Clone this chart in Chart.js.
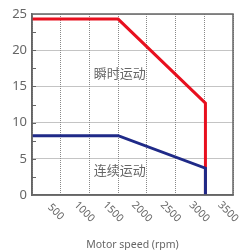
<!DOCTYPE html>
<html><head><meta charset="utf-8">
<script src="https://cdn.jsdelivr.net/npm/chart.js@4"></script>
<style>html,body{margin:0;padding:0;background:#fff}#wrap{width:241px;height:250px}</style>
</head><body><div id="wrap"><canvas id="c" width="241" height="250"></canvas></div>
<script>
const speeds = [0, 1500, 3020, 3020];
const peakTorque = [24.3, 24.3, 12.7, 0];
const contTorque = [8.2, 8.2, 3.7, 0];
const xTicks = [500, 1000, 1500, 2000, 2500, 3000, 3500];
const yMinorTicks = [2.5, 5, 7.5, 10, 12.5, 15, 17.5, 20, 22.5];
const regionLabels = [
  {text: '瞬时运动', x: 1530, y: 16.8},
  {text: '连续运动', x: 1530, y: 3.4}
];
const axisTitle = 'Motor speed (rpm)';

const GRAY = '#666';
const overlay = {
  id: 'overlay',
  afterDraw(chart) {
    const ctx = chart.ctx, a = chart.chartArea;
    const xs = chart.scales.x, ys = chart.scales.y;
    ctx.save();
    ctx.strokeStyle = GRAY; ctx.lineWidth = 1;
    yMinorTicks.forEach(v => {
      const y = Math.round(ys.getPixelForValue(v)) + 0.5;
      ctx.beginPath(); ctx.moveTo(a.left, y); ctx.lineTo(a.left + 4, y); ctx.stroke();
    });
    ctx.strokeStyle = GRAY; ctx.lineWidth = 1.5;
    ctx.strokeRect(a.left, a.top, a.right - a.left, a.bottom - a.top);
    ctx.fillStyle = '#666';
    ctx.font = '13px "Noto Sans CJK SC", "Noto Sans", sans-serif';
    ctx.textAlign = 'center'; ctx.textBaseline = 'middle';
    regionLabels.forEach(l => {
      ctx.fillText(l.text, xs.getPixelForValue(l.x), ys.getPixelForValue(l.y));
    });
    ctx.font = '10.5px "Noto Sans", sans-serif';
    ctx.fillStyle = '#666';
    xTicks.forEach(v => {
      ctx.save();
      ctx.translate(xs.getPixelForValue(v) - 5, a.bottom + 17);
      ctx.rotate(Math.PI / 4);
      ctx.fillText(String(v), 0, 0);
      ctx.restore();
    });
    ctx.restore();
  }
};

new Chart(document.getElementById('c'), {
  type: 'line',
  data: {
    datasets: [
      {label: 'cont', data: speeds.map((s, i) => ({x: s, y: contTorque[i]})),
       borderColor: '#1f2a88', borderWidth: 3, pointRadius: 0, tension: 0, fill: false},
      {label: 'peak', data: speeds.map((s, i) => ({x: s, y: peakTorque[i]})),
       borderColor: '#e8101f', borderWidth: 3, pointRadius: 0, tension: 0, fill: false}
    ]
  },
  options: {
    responsive: false, animation: false, devicePixelRatio: 1,
    layout: {padding: {left: 0, right: 8, top: 14, bottom: 0}},
    plugins: {legend: {display: false}, tooltip: {enabled: false}},
    scales: {
      x: {
        type: 'linear', min: 0, max: 3500,
        ticks: {display: false, stepSize: 500},
        grid: {color: '#888', lineWidth: 1, drawTicks: false},
        border: {display: true, color: GRAY, width: 1.5, dash: [1, 1]},
        title: {display: true, text: axisTitle, color: '#666',
                font: {family: '"Noto Sans", sans-serif', size: 10.5}, padding: {top: 0, bottom: -1}},
        afterFit(s) { s.height = 55; }
      },
      y: {
        min: 0, max: 25,
        ticks: {stepSize: 2.5, padding: 5, color: '#666',
                font: {family: '"Noto Sans", sans-serif', size: 13},
                callback: v => (v % 5 === 0 ? String(v) : '')},
        grid: {drawTicks: false, lineWidth: 1,
               color: c => (c.tick && c.tick.value % 5 === 0 ? '#888' : 'rgba(0,0,0,0)')},
        border: {display: true, color: GRAY, width: 1.5, dash: [1, 1]},
        afterFit(s) { s.width = 32; }
      }
    }
  },
  plugins: [overlay]
});
</script></body></html>
